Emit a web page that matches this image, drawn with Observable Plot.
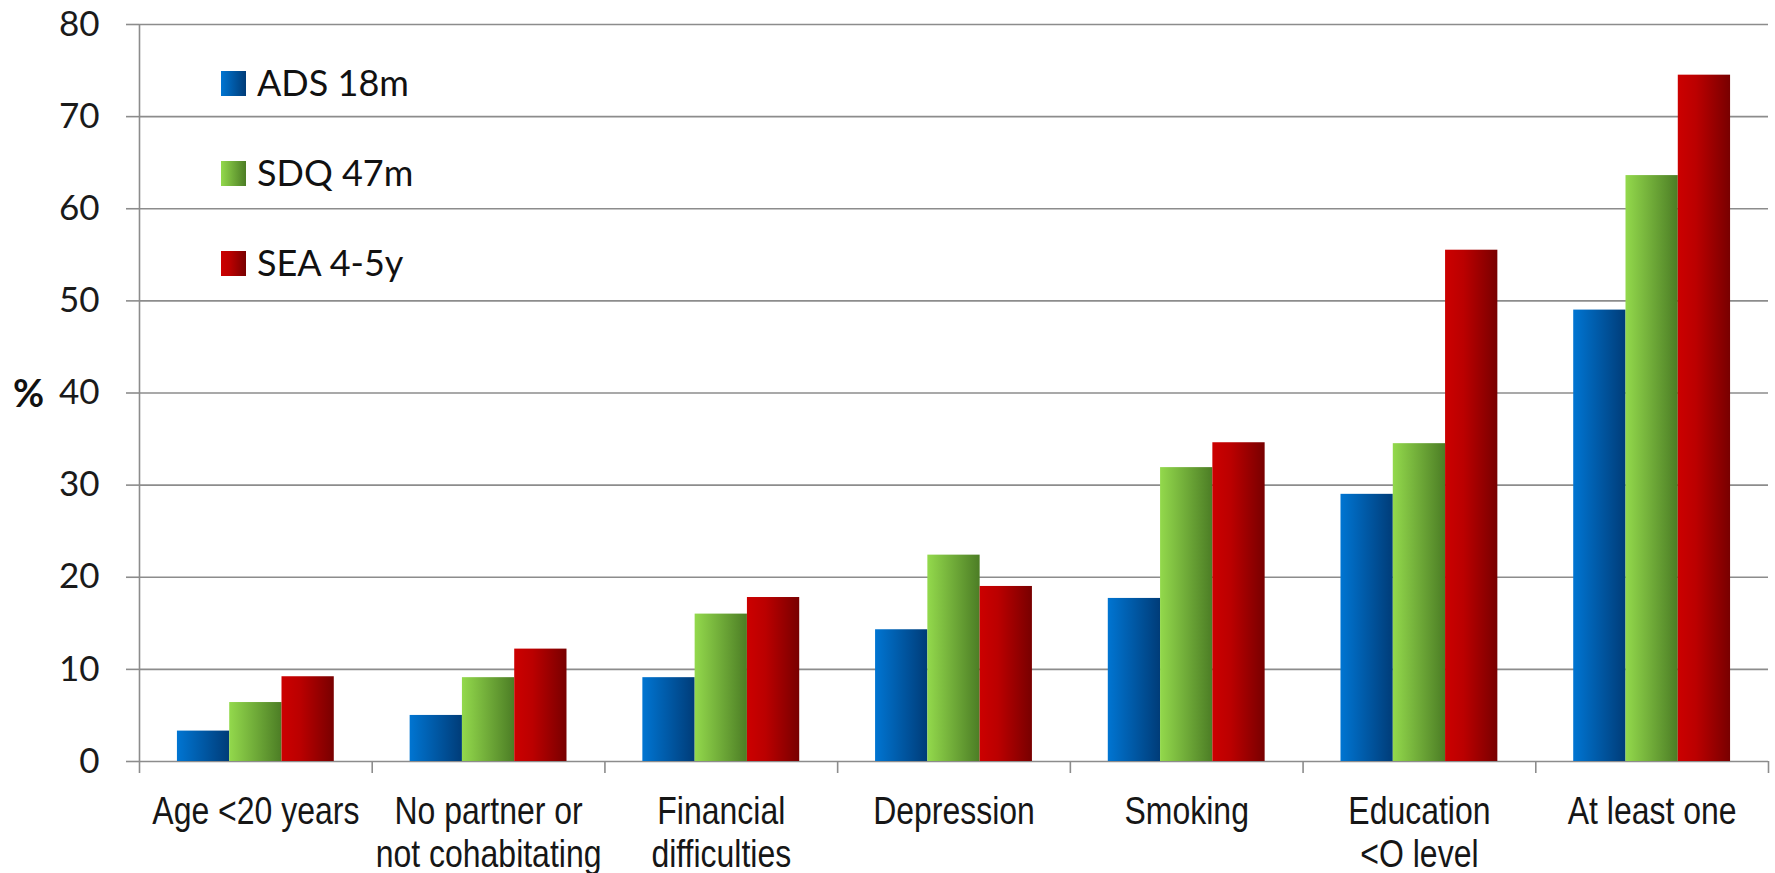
<!DOCTYPE html>
<html><head><meta charset="utf-8">
<script src="https://cdn.jsdelivr.net/npm/d3@7"></script>
<script src="https://cdn.jsdelivr.net/npm/@observablehq/plot@0.6"></script>
<style>
body{margin:0;background:#fff;}
#wrap{position:relative;width:1775px;height:873px;overflow:hidden;}
#legend{position:absolute;left:0;top:0;}
#pct{position:absolute;left:13px;top:369px;font:bold 38px Lato,sans-serif;color:#111;line-height:normal;}
</style></head><body><div id="wrap"><div id="pct">%</div></div>
<script>
const categories = ["Age <20 years","No partner or\nnot cohabitating","Financial\ndifficulties","Depression","Smoking","Education\n<O level","At least one"];
const seriesNames = ["ADS 18m","SDQ 47m","SEA 4-5y"];
const ads = [3.3, 5.0, 9.1, 14.3, 17.7, 29.0, 49.0];
const sdq = [6.4, 9.1, 16.0, 22.4, 31.9, 34.5, 63.6];
const sea = [9.2, 12.2, 17.8, 19.0, 34.6, 55.5, 74.5];
const yTicks = [0, 10, 20, 30, 40, 50, 60, 70, 80];

const gradIds = ["gBlue","gGreen","gRed"];
const gradStops = [
  [["0%","#0075d2"],["100%","#003c78"]],
  [["0%","#93d94c"],["100%","#4c7d25"]],
  [["0%","#cc0000"],["35%","#bb0000"],["100%","#780000"]]
];

// layout of bars inside each category band
const groupPad = 0.163, barW = (1 - 2*groupPad)/3;
const series = [ads, sdq, sea];
const rows = [];
series.forEach((vals, s) => vals.forEach((v, i) => rows.push({i, s, v, x1: i + groupPad + s*barW, x2: i + groupPad + (s+1)*barW})));

function hasFont(name){
  const c = document.createElement("canvas").getContext("2d");
  c.font = "40px monospace"; const a = c.measureText("Age <20 years wmi").width;
  c.font = `40px "${name}", monospace`; return c.measureText("Age <20 years wmi").width !== a;
}
const narrow = hasFont("Liberation Sans Narrow") ? "Liberation Sans Narrow" : (hasFont("Arial Narrow") ? "Arial Narrow" : null);
const labelFont = narrow ? `"${narrow}"` : `"Liberation Sans", Arial, sans-serif`;

const gray = "#8c8c8c";
const chart = Plot.plot({
  width: 1775, height: 873,
  marginLeft: 139, marginRight: 7, marginTop: 24, marginBottom: 112,
  style: {fontFamily: "Lato, sans-serif", color: "#1a1a1a", background: "#fff"},
  x: {domain: [0, 7], axis: null},
  y: {domain: [0, 80], axis: null},
  marks: [
    Plot.gridY(yTicks, {stroke: gray, strokeOpacity: 1, strokeWidth: 1.6}),
    Plot.axisY({ticks: yTicks, tickSize: 13, tickPadding: 27, fontSize: 35, stroke: gray, strokeWidth: 1.6, label: null, fill: "#1a1a1a"}),
    Plot.ruleX([0], {stroke: gray, strokeWidth: 1.6}),
    Plot.axisX({ticks: d3.range(categories.length + 1), tickSize: 12, tickFormat: () => "", stroke: gray, strokeWidth: 1.6, label: null}),
    Plot.rectY(rows, {x1: "x1", x2: "x2", y1: 0, y2: "v", fill: d => `url(#${gradIds[d.s]})`}),
    Plot.text(categories, {x: (d, i) => i + 0.5, frameAnchor: "bottom", lineAnchor: "top", dy: 31, lineHeight: 1.12, fontSize: 39, fontFamily: labelFont, fill: "#161616", className: "xlab"})
  ]
});

// gradients
const defs = d3.select(chart).insert("defs", ":first-child");
gradIds.forEach((id, k) => {
  const g = defs.append("linearGradient").attr("id", id).attr("x1", "0").attr("x2", "1").attr("y1", "0").attr("y2", "0");
  gradStops[k].forEach(([o, c]) => g.append("stop").attr("offset", o).attr("stop-color", c));
});
if (!narrow) {
  d3.select(chart).selectAll(".xlab text").each(function(){
    const t = this.getAttribute("transform") || "";
    this.setAttribute("transform", t + " scale(0.82,1)");
  });
}
const wrap = document.getElementById("wrap");
wrap.insertBefore(chart, wrap.firstChild);

// legend overlay
const lg = d3.select(wrap).append("svg").attr("id", "legend").attr("width", 500).attr("height", 320);
const lgDefs = lg.append("defs");
gradIds.forEach((id, k) => {
  const g = lgDefs.append("linearGradient").attr("id", id + "L").attr("x1", "0").attr("x2", "1");
  gradStops[k].forEach(([o, c]) => g.append("stop").attr("offset", o).attr("stop-color", c));
});
seriesNames.forEach((name, k) => {
  lg.append("rect").attr("x", 221).attr("y", 71 + 90*k).attr("width", 25).attr("height", 25).attr("fill", `url(#${gradIds[k]}L)`);
  lg.append("text").attr("x", 257).attr("y", 96 + 90*k).attr("font-family", "Lato, sans-serif").attr("font-size", 36).attr("fill", "#111").text(name);
});
</script>
</body></html>
